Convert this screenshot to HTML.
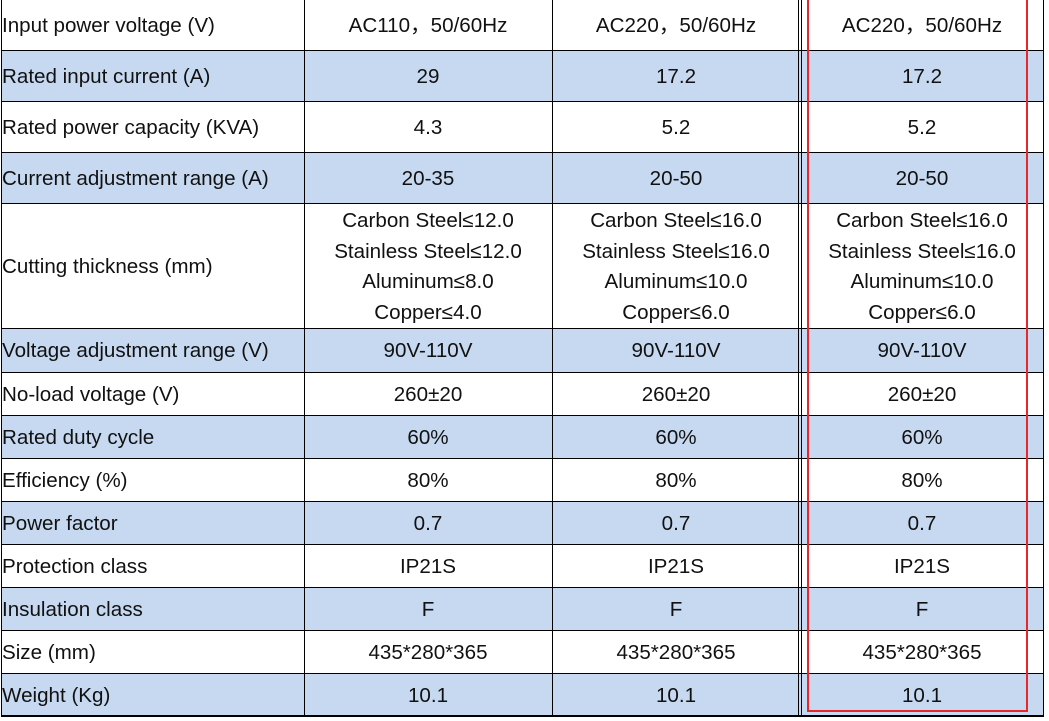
<!DOCTYPE html>
<html><head><meta charset="utf-8"><style>
body{margin:0;width:1049px;height:721px;background:#fff;overflow:hidden;font-family:"Liberation Sans","Noto Sans CJK SC",sans-serif;color:#111}
.r{position:absolute;left:1px;width:1043px;border-top:1.5px solid #000;box-sizing:border-box}
.b{background:#c6d9f0}
.c{position:absolute;display:flex;align-items:center;justify-content:center;text-align:center;font-size:20.6px;line-height:30.5px;padding-top:3px;box-sizing:border-box}
.l{justify-content:flex-start;left:2px}
.v{position:absolute;top:0;height:716px;border-left:1.5px solid #000}
</style></head><body>
<div id="t"></div>
<script>
const rows=[
[0,50,0,"Input power voltage (V)","AC110，50/60Hz","AC220，50/60Hz","AC220，50/60Hz"],
[50,101,1,"Rated input current (A)","29","17.2","17.2"],
[101,152,0,"Rated power capacity (KVA)","4.3","5.2","5.2"],
[152,203,1,"Current adjustment range (A)","20-35","20-50","20-50"],
[203,328,0,"Cutting thickness (mm)","Carbon Steel≤12.0<br>Stainless Steel≤12.0<br>Aluminum≤8.0<br>Copper≤4.0","Carbon Steel≤16.0<br>Stainless Steel≤16.0<br>Aluminum≤10.0<br>Copper≤6.0","Carbon Steel≤16.0<br>Stainless Steel≤16.0<br>Aluminum≤10.0<br>Copper≤6.0"],
[328,372,1,"Voltage adjustment range (V)","90V-110V","90V-110V","90V-110V"],
[372,415,0,"No-load voltage (V)","260±20","260±20","260±20"],
[415,458,1,"Rated duty cycle","60%","60%","60%"],
[458,501,0,"Efficiency (%)","80%","80%","80%"],
[501,544,1,"Power factor","0.7","0.7","0.7"],
[544,587,0,"Protection class","IP21S","IP21S","IP21S"],
[587,630,1,"Insulation class","F","F","F"],
[630,673,0,"Size (mm)","435*280*365","435*280*365","435*280*365"],
[673,716,1,"Weight (Kg)","10.1","10.1","10.1"]];
const cols=[[1,304],[304,552],[552,800],[800,1044]];
let h="";
rows.forEach((r,i)=>{
 h+=`<div class="r ${r[2]?'b':''}" style="top:${r[0]}px;height:${r[1]-r[0]}px;${i==0?'border-top:none':''}"></div>`;
 for(let j=0;j<4;j++){
  const [x0,x1]=cols[j];
  h+=`<div class="c ${j==0?'l':''}" style="top:${r[0]}px;height:${r[1]-r[0]}px;${j==0?'width:300px':`left:${x0}px;width:${x1-x0}px`}">${r[3+j]}</div>`;
 }
});
h+=`<div class="r" style="top:715px;height:2px;border-top:2px solid #000"></div>`;
[1,304,552,798,801,1043].forEach(x=>h+=`<div class="v" style="left:${x}px"></div>`);
h+=`<div style="position:absolute;left:807px;top:-2px;width:221px;height:714px;border:2px solid #e8262b;box-sizing:border-box"></div>`;
document.getElementById("t").innerHTML=h;
</script>
</body></html>
